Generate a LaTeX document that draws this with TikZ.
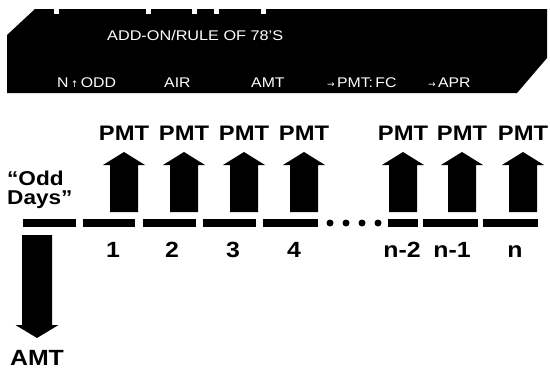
\documentclass[tikz,border=0pt]{standalone}
\usepackage{fontspec}
\setmainfont{Liberation Sans}
\newfontfamily\widefont[FakeStretch=1.13]{Liberation Sans}
\newfontfamily\titlefont[FakeStretch=1.16]{Liberation Sans}
\newfontfamily\arrowfont{DejaVu Sans}
\newcommand{\smallarr}[1]{{\arrowfont\fontsize{9}{9}\selectfont #1}}

\tikzset{
  bigtext/.style={font=\widefont\bfseries\fontsize{21}{21}\selectfont, text=black, inner sep=0pt},
  numtext/.style={font=\widefont\bfseries\fontsize{22}{22}\selectfont, text=black, inner sep=0pt},
  keytext/.style={font=\widefont\fontsize{14}{14}\selectfont, text=white, inner sep=0pt},
  titletext/.style={font=\titlefont\fontsize{14}{14}\selectfont, text=white, inner sep=0pt},
  pics/uparrow/.style={code={
    \fill (0,0) -- (21,13) -- (14,13) -- (14,60) -- (-14,60) -- (-14,13) -- (-21,13) -- cycle;
  }},
}

\begin{document}
\begin{tikzpicture}[x=1pt,y=-1pt]
\useasboundingbox (0,0) rectangle (550,370);

% keyboard overlay strip
\fill[black] (35,9) -- (547,9) -- (547,58) -- (517,93) -- (7,93) -- (7,35) -- cycle;
\foreach \x in {54,146,192,214,261}
  \fill[white] (\x,8) rectangle ++(5,6);

\node[titletext, anchor=base west] (title) at (107,40) {ADD-ON/RULE OF 78’S};
\node[keytext, anchor=base west] (kn)   at (57,87)  {N\,\smallarr{↑}\,ODD};
\node[keytext, anchor=base west] (kair) at (164,87) {AIR};
\node[keytext, anchor=base west] (kamt) at (251,87) {AMT};
\node[keytext, anchor=base west] (kpmt) at (327,87) {\smallarr{→}\,PMT:\,FC};
\node[keytext, anchor=base west] (kapr) at (428,87) {\smallarr{→}\,APR};

% payment arrows and labels
\foreach \cx [count=\i] in {124,184,244,304,403,462,523} {
  \pic at (\cx,152) {uparrow};
  \node[bigtext, anchor=base] (pmt\i) at (\cx,140) {PMT};
}

% odd days label
\node[bigtext, font=\widefont\bfseries\fontsize{20}{19}\selectfont,
      align=left, anchor=north west] (odd) at (7,171) {“Odd\\Days”};

% time line segments
\foreach \a/\b in {23/76, 83/135, 143/196, 203/256, 263/318, 388/418, 423/478, 483/538}
  \fill (\a,219) rectangle (\b,227);
\foreach \x in {330,346,362,378}
  \fill (\x,223) circle[radius=3.5];

% period numbers
\foreach \x/\t [count=\i] in {113/1, 172/2, 233/3, 294/4, 402/n-2, 452/n-1, 515/n}
  \node[numtext, anchor=base] (num\i) at (\x,257) {\t};

% loan amount arrow
\fill (22,235) -- (52,235) -- (52,325) -- (58.5,325) -- (37,338) -- (15.5,325) -- (22,325) -- cycle;
\node[numtext, anchor=base] (amt) at (37,365) {AMT};
\end{tikzpicture}
\end{document}
